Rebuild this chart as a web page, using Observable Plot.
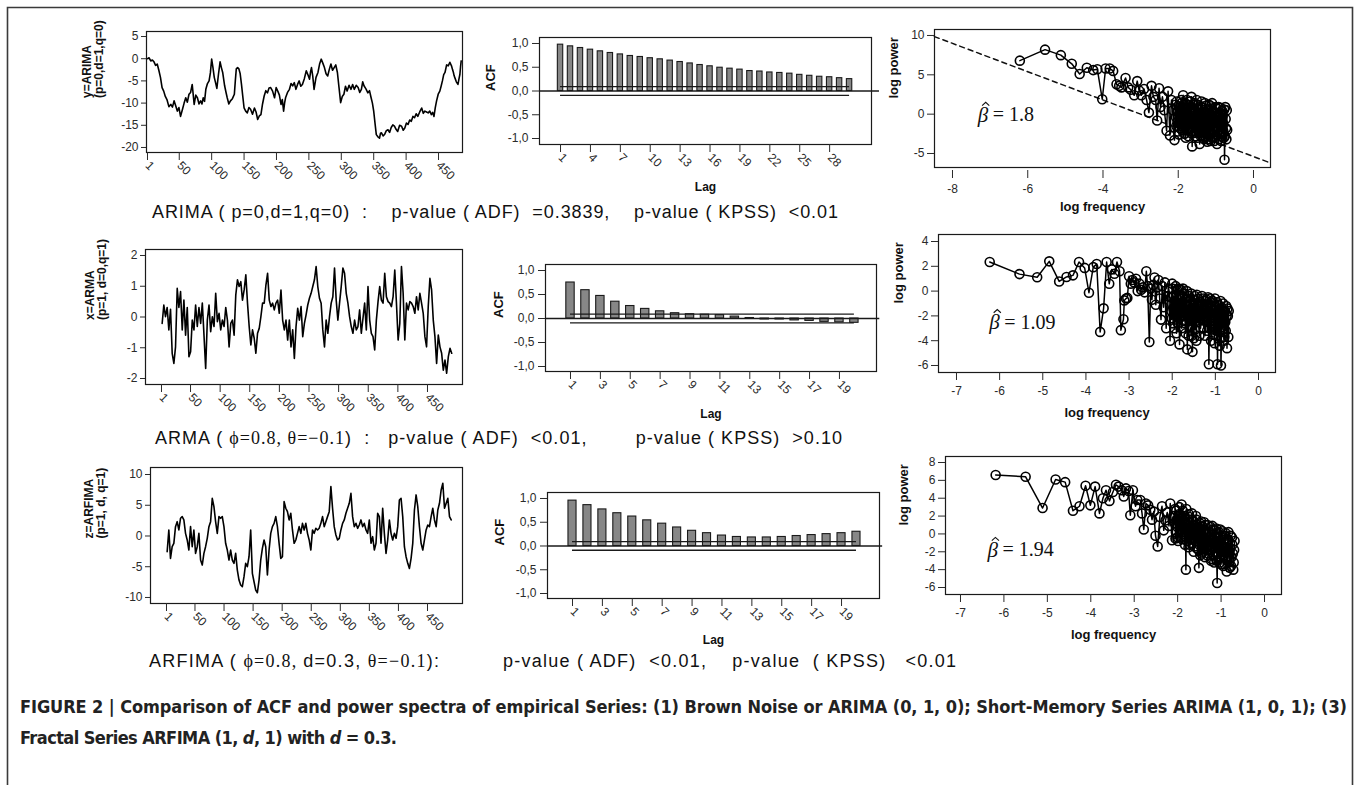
<!DOCTYPE html>
<html><head><meta charset="utf-8">
<script src="https://cdn.jsdelivr.net/npm/d3@7"></script>
<script src="https://cdn.jsdelivr.net/npm/@observablehq/plot@0.6"></script>
<style>
html,body{margin:0;padding:0;background:#fff;overflow:hidden;}
#fig{position:relative;width:1356px;height:785px;overflow:hidden;background:#fff;}
.panel{position:absolute;}
.panel svg{overflow:visible;}
</style></head><body><div id="fig"></div>
<script>
// ================= DATA =================
const tsTicks = [1, 50, 100, 150, 200, 250, 300, 350, 400, 450];

// Row 1: y = ARIMA(0,1,0), [observation index, value]
const ts1Points = [[1,0],[3.5,0.2],[6,-0.5],[8.5,-0.3],[11,-0.7],[13.5,-1.5],[16,-1.2],[18.5,-2.6],[21,-4.2],[23.5,-6.5],
[26,-7.3],[28.5,-8.5],[31,-9.2],[34,-10.8],[37,-10.3],[39.5,-10.9],[42,-9.5],[44.5,-10.6],[47,-11.8],[49.5,-11.0],
[52,-13.0],[55,-11.4],[57.5,-10.0],[60,-8.8],[62.5,-9.8],[65,-8.0],[67.5,-7.6],[70,-5.8],[73,-10.3],[75.5,-8.2],
[78,-8.8],[80.5,-10.2],[83,-9.5],[85,-10.2],[87,-8.8],[89,-9.6],[91,-6.9],[93.5,-5.6],[96,-5.0],[98,-3.2],
[100,-0.1],[102,-2.0],[104,-4.2],[106,-5.4],[108,-6.7],[110.5,-3.5],[113,-0.7],[115,-2.0],[117,-3.1],[120,-6.1],
[122,-7.5],[124,-8.8],[126.5,-10.2],[129,-9.5],[132,-9.0],[135,-8.0],[136.5,-5.0],[138,-2.3],[140,-2.0],[142,-2.3],
[144,-3.4],[146,-5.8],[148,-8.5],[150,-11.1],[152.5,-11.8],[155,-12.2],[157.5,-11.0],[160,-11.4],[163,-12.5],[166,-11.1],
[168.5,-12.0],[171,-13.7],[173.5,-12.9],[176,-12.6],[178.5,-10.2],[181,-8.4],[183.5,-7.2],[186,-7.7],[188.5,-6.6],[191,-6.5],
[194,-7.3],[197,-8.8],[199.5,-6.5],[202,-7.3],[204.5,-8.2],[207,-10.3],[209,-9.2],[211,-11.8],[212.5,-10.0],[214,-8.8],
[217,-7.6],[220,-6.9],[222.5,-5.6],[225,-6.1],[227.5,-5.4],[230,-6.9],[232.5,-5.8],[235,-5.0],[237.5,-6.2],[240,-5.8],
[243,-4.5],[246,-2.7],[248.5,-3.6],[251,-4.6],[252.5,-3.0],[254,-2.0],[256,-4.0],[258,-6.9],[261,-4.2],[264,-3.1],
[266.5,-1.2],[269,-0.1],[271.5,-1.0],[274,-2.0],[276.5,-3.4],[279,-3.9],[281.5,-2.4],[284,-1.2],[286.5,-2.6],[289,-2.0],
[291.5,-1.4],[294,-3.1],[296.5,-6.5],[299,-9.9],[301.5,-8.5],[304,-8.0],[306.5,-6.2],[309,-7.3],[312,-6.0],[315,-6.9],
[317.5,-5.8],[320,-6.9],[323,-6.0],[326,-6.5],[328.5,-7.6],[331,-6.9],[333,-5.2],[335,-6.1],[338,-6.8],[341,-7.7],
[343.5,-7.2],[346,-8.8],[348,-10.0],[350,-11.8],[352,-14.5],[354,-17.1],[356.5,-17.6],[359,-17.9],[360.5,-16.8],[362,-16.7],
[364.5,-17.4],[367,-17.0],[369.5,-16.2],[372,-16.0],[374.5,-16.6],[377,-15.5],[379.5,-14.9],[382,-15.2],[384.5,-15.9],[387,-16.4],
[390,-15.0],[393,-15.2],[395.5,-16.1],[398,-15.6],[400.5,-14.5],[403,-14.8],[405.5,-13.8],[408,-14.1],[410.5,-13.0],[413,-13.3],
[415.5,-12.4],[418,-13.0],[421,-12.0],[424,-11.1],[426.5,-12.3],[429,-11.8],[431.5,-12.0],[434,-12.2],[436.5,-11.8],[439,-12.6],
[441,-12.1],[443,-13.0],[445,-11.0],[447,-9.5],[449.5,-8.0],[452,-7.3],[454,-6.2],[456,-5.0],[458,-3.6],[460,-3.1],
[462.5,-1.4],[465,-1.6],[467.5,-0.8],[470,-1.6],[471.5,-2.4],[473,-3.1],[474,-3.8],[475,-4.2],[477.5,-5.2],[480,-5.8],
[481.5,-4.6],[483,-3.5],[484,-1.8],[485,-0.5]];

// Row 2: x = ARMA(1,0,1), one value every ts2Step observations from ts2Start
const ts2Start = 2.1, ts2Step = 2.825;
const ts2Value = [-0.21,0.39,0.01,0.31,-0.42,0.25,-1.18,-1.51,-0.97,0.93,
0.31,0.83,-0.42,0.55,-0.59,0.31,-1.29,-1.13,-0.10,-0.42,
0.39,-0.31,0.31,-0.21,0.45,-0.59,-1.67,-0.10,0.39,-0.48,
0.01,-0.31,0.77,-0.15,0.12,-0.42,-0.10,-0.31,0.31,-0.10,
-0.97,-0.21,-0.10,-0.59,0.72,1.21,0.99,1.15,0.55,0.88,
1.37,0.45,-0.31,-0.91,-0.42,-0.69,-1.18,-0.53,-0.37,0.01,
0.45,0.45,1.04,1.42,0.55,0.34,0.45,0.23,0.45,0.55,
0.12,0.88,-0.10,-0.42,-0.10,-0.75,-0.10,-0.97,-0.42,-1.35,
-0.31,0.28,-0.10,0.34,-0.64,-0.21,0.07,0.39,0.61,0.77,
0.99,1.21,1.64,0.99,0.61,0.45,-0.42,-0.97,-0.10,-0.53,
0.01,0.45,0.66,1.59,0.55,-0.10,0.45,0.99,1.59,1.42,
0.77,0.45,0.01,-0.31,-0.53,-0.10,-0.42,-0.31,0.23,-0.53,
-0.04,0.45,-0.42,0.99,-0.10,-0.53,-0.64,-1.07,-0.10,0.50,
0.99,0.55,0.45,1.42,0.66,0.50,0.45,0.34,0.66,1.53,
0.45,-0.75,-0.21,1.64,0.77,-0.75,0.45,0.23,0.50,0.45,
0.34,0.12,0.66,0.23,0.77,0.45,0.12,-0.64,-0.97,0.34,
1.26,0.88,-0.10,-0.64,-1.51,-0.59,-0.97,-1.18,-1.73,-1.40,
-1.83,-1.29,-1.02,-1.18];

// Row 3: z = ARFIMA(1,d,1)
const ts3Start = 2.15, ts3Step = 2.874;
const ts3Value = [-2.55,0.98,-3.64,-1.74,-1.19,1.52,2.33,0.98,2.88,3.15,
2.61,0.43,-0.65,-2.28,1.52,-1.74,0.98,-2.82,-1.74,0.43,
-3.91,-4.72,-2.82,-1.74,-0.38,1.52,2.33,6.13,4.78,2.33,
0.43,3.15,2.88,3.15,1.52,-1.19,-2.28,-3.91,-2.28,-3.91,
-4.45,-2.82,-5.54,-7.17,-7.98,-8.25,-6.62,-4.45,-4.99,-3.37,
0.98,-6.08,-7.44,-8.79,-9.23,-7.17,-3.91,-2.01,-0.65,-1.74,
-6.35,-2.28,0.43,1.52,2.06,3.15,1.52,-1.19,-3.64,-3.37,
5.59,4.51,3.96,2.61,3.69,0.98,-1.19,-0.65,0.43,1.52,
0.43,2.06,0.98,2.06,0.43,-0.65,-2.28,0.98,0.43,1.25,
0.98,1.25,2.06,3.15,1.52,2.33,3.15,3.96,8.03,4.51,
1.52,0.16,-0.65,-0.38,0.98,2.06,2.61,3.69,4.51,5.32,
6.95,3.15,1.52,2.06,1.25,1.79,2.61,1.52,2.06,0.98,
0.43,2.61,-1.19,-0.11,-2.28,-1.19,3.69,3.15,-1.19,4.51,
0.43,-2.82,-0.65,2.61,0.43,-0.65,0.43,-0.38,1.52,5.86,
6.13,3.15,-1.74,-3.37,-4.45,-5.27,-3.64,-1.19,4.23,6.68,
4.78,1.52,-1.19,-2.28,-0.65,0.98,1.79,1.52,3.15,4.51,
2.61,1.52,4.23,5.32,7.49,8.58,4.51,5.32,6.13,3.15,
2.61];

const tsYTicks1 = [5, 0, -5, -10, -15, -20];
const tsYTicks2 = [2, 1, 0, -1, -2];
const tsYTicks3 = [10, 5, 0, -5, -10];
const tsLabels = ["y=ARIMA\n(p=0,d=1,q=0)", "x=ARMA\n(p=1, d=0,q=1)", "z=ARFIMA\n(p=1, d, q=1)"];

// ACF
const acf1 = [0.975,0.94,0.905,0.87,0.835,0.80,0.77,0.737,0.716,0.69,0.667,0.64,0.61,0.58,0.547,0.52,0.49,0.47,0.45,0.42,0.41,0.39,0.38,0.365,0.34,0.32,0.30,0.29,0.27,0.25];
const acf2 = [0.75,0.59,0.47,0.35,0.26,0.20,0.15,0.11,0.09,0.08,0.07,0.04,0.01,-0.02,-0.02,-0.04,-0.05,-0.07,-0.08,-0.09];
const acf3 = [0.955,0.86,0.77,0.69,0.62,0.54,0.47,0.39,0.32,0.27,0.22,0.19,0.18,0.18,0.19,0.21,0.23,0.25,0.27,0.30];
const acfTicks1 = [1, 4, 7, 10, 13, 16, 19, 22, 25, 28];
const acfTicks23 = [1, 3, 5, 7, 9, 11, 13, 15, 17, 19];
const acfYTicks = [1, 0.5, 0, -0.5, -1];
const confBound = 0.09;

// Power spectra: [log frequency, log power]
const sp1 = [[-6.21,6.8],[-5.54,8.2],[-5.12,7.5],[-4.83,6.4],[-4.62,5.1],[-4.43,5.9],[-4.26,5.6],[-4.15,5.7],[-4.02,1.9],[-3.93,5.8],
[-3.82,5.8],[-3.73,5.5],[-3.64,3.8],[-3.57,3.6],[-3.51,3.4],[-3.40,4.6],[-3.33,3.4],[-3.26,3.1],[-3.17,2.4],[-3.09,4.2],
[-3.04,3.0],[-2.98,2.4],[-2.91,3.2],[-2.84,1.8],[-2.78,0.2],[-2.71,3.6],[-2.66,2.2],[-2.60,1.8],[-2.56,-0.8],[-2.51,3.3],
[-2.47,0.9],[-2.42,2.2],[-2.37,0.5],[-2.31,-2.1],[-2.27,2.9],[-2.22,-2.7],[-2.18,1.8],[-2.14,0.5],[-2.10,-3.3],
[-2.07,1.2],[-2.05,-1.5],[-2.03,0.3],[-2.01,-2.2],[-1.99,1.0],[-1.97,-0.5],[-1.95,-1.8],[-1.93,0.6],[-1.91,-1.0],[-1.89,1.5],
[-1.87,2.4],[-1.85,-0.8],[-1.83,-2.5],[-1.81,0.8],[-1.79,-1.5],[-1.77,1.8],[-1.75,-0.3],[-1.73,-2.8],[-1.71,1.0],[-1.69,-1.2],
[-1.67,0.2],[-1.65,2.2],[-1.63,-4.1],[-1.61,-1.0],
[-1.60,-0.5],[-1.59,1.2],[-1.58,-1.0],[-1.57,-2.4],[-1.56,1.4],[-1.55,0.5],[-1.54,-2.8],[-1.53,-1.6],[-1.52,0.0],[-1.51,1.8],
[-1.50,-1.2],[-1.49,-3.0],[-1.48,1.2],[-1.47,0.2],[-1.46,-2.4],[-1.45,-1.0],[-1.44,0.6],[-1.43,-3.8],[-1.42,-1.8],[-1.41,1.0],
[-1.40,-2.8],[-1.39,-0.6],[-1.38,1.6],[-1.37,-2.2],[-1.36,-1.0],[-1.35,0.8],[-1.34,-3.0],[-1.33,-1.4],[-1.32,0.2],[-1.31,-3.2],
[-1.30,-1.6],[-1.29,1.4],[-1.28,-2.8],[-1.27,-0.4],[-1.26,1.1],[-1.25,-2.6],[-1.24,-1.2],[-1.23,-3.5],[-1.22,-0.2],[-1.21,0.6],
[-1.20,-3.2],[-1.19,-1.8],[-1.18,1.2],[-1.17,0.2],[-1.16,-1.4],[-1.15,-2.6],[-1.14,-3.4],[-1.13,1.0],[-1.12,-0.4],[-1.11,-0.9],
[-1.10,1.4],[-1.09,-3.0],[-1.08,-2.0],[-1.07,0.4],[-1.06,-0.8],[-1.05,-1.5],[-1.04,-3.4],[-1.03,-2.2],[-1.02,0.2],[-1.01,0.9],
[-1.00,-1.6],[-0.99,-0.8],[-0.98,0.7],[-0.97,-3.8],[-0.96,-2.6],[-0.95,-1.2],[-0.94,-0.4],[-0.93,0.9],[-0.92,-3.2],[-0.91,-2.0],
[-0.90,-1.0],[-0.89,0.2],[-0.88,0.8],[-0.87,-1.0],[-0.86,-3.4],[-0.85,-2.5],[-0.84,-1.6],[-0.83,0.4],[-0.82,-0.2],[-0.81,-1.2],
[-0.80,-2.2],[-0.79,-3.0],[-0.78,0.6],[-0.77,-5.8],[-0.76,-2.8],[-0.75,0.9],[-0.74,-0.6],[-0.73,-1.8],[-0.72,-3.2],[-0.71,0.5],
[-0.70,-2.0]];
const sp1Extra = [[-2.06,-0.4],[-2.04,1.6],[-2.02,-1.0],[-2.00,0.4],[-1.98,-2.6],[-1.96,0.8],[-1.94,-0.8],[-1.92,1.8],[-1.90,-2.0],[-1.88,0.2],
[-1.86,-1.2],[-1.84,1.2],[-1.82,-0.6],[-1.80,-3.0],[-1.78,0.4],[-1.76,-2.0],[-1.74,1.2],[-1.72,-0.6],[-1.70,-1.8],[-1.68,1.6],
[-1.66,-2.4],[-1.64,0.4],[-1.62,-1.6]];
const fit1 = [[-8.48, 9.86], [0.45, -6.2]];

const sp2 = [[-6.23,2.35],[-5.54,1.37],[-5.13,1.12],[-4.85,2.4],[-4.62,0.78],[-4.45,1.14],[-4.30,1.27],[-4.16,2.35],[-4.03,1.87],[-3.93,-0.13],
[-3.83,1.93],[-3.75,2.18],[-3.67,-3.29],[-3.59,-1.39],[-3.52,2.35],[-3.46,0.59],[-3.40,1.75],[-3.34,1.4],[-3.28,2.35],[-3.22,1.6],
[-3.19,-3.15],[-3.13,-2.27],[-3.11,-0.75],[-3.07,-0.6],[-3.04,-0.55],[-3.00,1.2],[-2.96,0.6],[-2.92,0.9],[-2.88,0.7],[-2.84,1.0],
[-2.80,0.0],[-2.76,0.6],[-2.72,0.1],[-2.68,0.3],[-2.64,-0.1],[-2.60,1.6],[-2.57,0.4],[-2.53,-4.1],[-2.50,0.2],[-2.47,-0.7],
[-2.44,0.5],[-2.41,1.1],[-2.38,-1.1],[-2.35,0.3],[-2.32,0.9],[-2.29,-0.6],[-2.26,-2.3],[-2.23,0.4],[-2.20,-1.3],[-2.17,0.7],
[-2.14,-3.0],[-2.11,-0.4],[-2.08,0.2],[-2.05,-4.0],
[-2.03,-0.5],[-2.01,-2.2],[-1.99,0.2],[-1.97,-1.4],[-1.95,-3.0],[-1.93,-0.8],[-1.91,-1.9],[-1.89,0.1],[-1.87,-2.6],[-1.85,-1.2],
[-1.83,-4.3],[-1.81,-0.3],[-1.79,-2.0],[-1.77,-1.0],[-1.75,0.2],[-1.73,-2.4],[-1.71,-1.5],[-1.69,-3.4],[-1.67,-0.6],[-1.65,-4.7],
[-1.63,-1.2],[-1.61,-0.4],[-1.59,-2.8],[-1.57,-1.6],[-1.55,-3.6],[-1.53,-4.9],[-1.51,-0.7],[-1.49,-2.2],[-1.47,-3.1],[-1.45,-1.0],
[-1.43,-0.3],[-1.41,-2.5],[-1.39,-1.4],[-1.37,-3.6],[-1.35,-0.9],[-1.33,-2.0],
[-1.31,-0.4],[-1.30,-2.2],[-1.29,-1.6],[-1.28,-0.6],[-1.27,-3.0],[-1.26,-1.4],[-1.25,-2.4],[-1.24,-3.6],[-1.23,-0.8],[-1.22,-2.0],
[-1.21,-1.8],[-1.20,-0.7],[-1.19,-3.2],[-1.18,-2.4],[-1.17,-0.5],[-1.16,-1.6],[-1.15,-5.9],[-1.14,-3.0],[-1.13,-1.3],[-1.12,-0.6],
[-1.11,-2.6],[-1.10,-4.0],[-1.09,-0.9],[-1.08,-1.8],[-1.07,-2.1],[-1.06,-0.8],[-1.05,-3.5],[-1.04,-2.4],[-1.03,-1.5],[-1.02,-4.2],
[-1.01,-0.6],[-1.00,-1.2],[-0.99,-2.8],[-0.98,-3.6],[-0.97,-1.9],[-0.96,-0.9],[-0.95,-5.9],[-0.94,-2.6],[-0.93,-1.1],[-0.92,-1.5],
[-0.91,-3.3],[-0.90,-4.4],[-0.89,-2.2],[-0.88,-0.8],[-0.87,-6.0],[-0.86,-3.8],[-0.85,-1.4],[-0.84,-2.2],[-0.83,-2.9],[-0.82,-1.0],
[-0.81,-1.7],[-0.80,-4.0],[-0.79,-3.7],[-0.78,-1.6],[-0.77,-2.5],[-0.76,-3.2],[-0.75,-1.2],[-0.74,-2.0],[-0.73,-4.6],[-0.72,-1.4],
[-0.71,-2.0],[-0.70,-3.7],[-0.69,-1.6]];
const sp2Extra = [[-2.02,-1.6],[-2.00,0.6],[-1.98,-2.6],[-1.96,-0.4],[-1.94,-1.6],[-1.92,0.4],[-1.90,-3.4],[-1.88,-1.0],[-1.86,0.2],[-1.84,-2.2],
[-1.82,-1.4],[-1.80,0.1],[-1.78,-3.0],[-1.76,-0.6],[-1.74,-1.8],[-1.72,-0.2],[-1.70,-2.6],[-1.68,-1.2],[-1.66,0.0],[-1.64,-2.0],
[-1.62,-3.6],[-1.60,-0.8],[-1.58,-1.8],[-1.56,-0.2],[-1.54,-2.4],[-1.52,-1.2],[-1.50,-3.8],[-1.48,-0.4],[-1.46,-1.8],[-1.44,-4.0],
[-1.42,-1.2],[-1.40,-0.6],[-1.38,-2.2],[-1.36,-1.6],[-1.34,-3.0],[-1.32,-1.0]];

const sp3 = [[-6.19,6.6],[-5.50,6.4],[-5.11,2.9],[-4.81,6.1],[-4.59,5.8],[-4.41,2.6],[-4.26,3.1],[-4.12,5.4],[-4.01,3.2],[-3.90,5.3],
[-3.80,2.3],[-3.72,4.0],[-3.65,4.9],[-3.57,3.7],[-3.49,4.7],[-3.42,5.5],[-3.36,5.3],[-3.29,4.9],[-3.24,4.2],[-3.19,5.1],
[-3.13,4.8],[-3.09,2.1],[-3.03,4.9],[-2.97,3.1],[-2.93,3.8],[-2.86,3.8],[-2.82,2.3],[-2.78,0.5],[-2.73,3.4],[-2.68,3.2],
[-2.63,2.7],[-2.59,1.6],[-2.55,2.5],[-2.51,-0.2],[-2.46,-1.4],[-2.41,1.9],[-2.36,3.1],[-2.32,0.4],[-2.28,1.5],[-2.24,2.4],
[-2.20,0.9],[-2.17,3.4],[-2.13,-0.7],[-2.10,2.0],
[-2.07,1.2],[-2.05,-0.5],[-2.03,2.6],[-2.01,0.8],[-1.99,-0.8],[-1.97,2.2],[-1.95,1.0],[-1.93,-0.4],[-1.91,3.3],[-1.89,1.5],
[-1.87,0.2],[-1.85,2.0],[-1.83,-1.2],[-1.81,-4.0],[-1.79,1.6],[-1.77,0.4],[-1.75,-1.5],[-1.73,1.9],[-1.71,0.0],[-1.69,-1.0],
[-1.67,2.3],[-1.65,0.6],[-1.63,-2.0],[-1.61,1.0],[-1.59,-0.8],[-1.57,1.6],[-1.55,-1.6],[-1.53,0.2],[-1.51,-3.8],[-1.49,1.2],
[-1.47,-0.5],[-1.45,-2.2],[-1.43,0.8],[-1.41,-1.2],[-1.39,1.3],[-1.37,-2.6],[-1.35,0.0],[-1.33,-1.4],
[-1.31,1.0],[-1.30,-0.4],[-1.29,-2.2],[-1.28,-1.8],[-1.27,-0.6],[-1.26,0.2],[-1.25,0.8],[-1.24,-1.4],[-1.23,-3.0],[-1.22,-2.8],
[-1.21,-1.0],[-1.20,0.9],[-1.19,0.5],[-1.18,-1.0],[-1.17,-2.4],[-1.16,-3.2],[-1.15,-0.3],[-1.14,0.4],[-1.13,-1.6],[-1.12,-2.0],
[-1.11,0.6],[-1.10,-3.0],[-1.09,-5.5],[-1.08,-0.4],[-1.07,-1.2],[-1.06,-2.2],[-1.05,0.2],[-1.04,-1.0],[-1.03,-3.2],[-1.02,0.5],
[-1.01,-0.8],[-1.00,-3.4],[-0.99,-2.0],[-0.98,-1.2],[-0.97,0.3],[-0.96,-0.2],[-0.95,-3.6],[-0.94,-2.4],[-0.93,-1.4],[-0.92,-3.4],
[-0.91,-0.2],[-0.90,0.1],[-0.89,-2.6],[-0.88,-1.6],[-0.87,-4.2],[-0.86,-3.0],[-0.85,-1.0],[-0.84,-0.6],[-0.83,0.2],[-0.82,-2.2],
[-0.81,-2.8],[-0.80,-3.8],[-0.79,-1.6],[-0.78,-0.2],[-0.77,-3.6],[-0.76,-2.6],[-0.75,-0.4],[-0.74,-1.2],[-0.73,-2.2],[-0.72,-4.0],
[-0.71,-3.2],[-0.70,-1.8],[-0.69,-0.8]];
const sp3Extra = [[-2.06,2.8],[-2.04,0.2],[-2.02,1.6],[-2.00,-0.4],[-1.98,1.4],[-1.96,3.0],[-1.94,0.4],[-1.92,1.8],[-1.90,-0.6],[-1.88,2.6],
[-1.86,0.8],[-1.84,-0.6],[-1.82,1.2],[-1.80,2.8],[-1.78,-0.8],[-1.76,1.0],[-1.74,2.2],[-1.72,-1.2],[-1.70,0.8],[-1.68,1.6],
[-1.66,-0.6],[-1.64,1.4],[-1.62,-1.4],[-1.60,0.4],[-1.58,2.0],[-1.56,-0.4],[-1.54,1.0],[-1.52,-1.8],[-1.50,0.6],[-1.48,-2.4],
[-1.46,1.4],[-1.44,-0.8],[-1.42,-2.0],[-1.40,0.2],[-1.38,-1.6],[-1.36,1.0],[-1.34,-0.6],[-1.32,-2.4]];

const spXTicks1 = [-8, -6, -4, -2, 0];
const spXTicks23 = [-7, -6, -5, -4, -3, -2, -1, 0];
const spYTicks1 = [10, 5, 0, -5];
const spYTicks2 = [4, 2, 0, -2, -4, -6];
const spYTicks3 = [8, 6, 4, 2, 0, -2, -4, -6];
const betaText = ["= 1.8", "= 1.09", "= 1.94"];
const betaLabelX = [-7.33, -6.24, -6.38];
const betaLabelY = [-0.1, -2.5, -1.8];

const rowLines = [
  [["ARIMA ( p=0,d=1,q=0)  :    p-value ( ADF)  =0.3839,    p-value ( KPSS)  <0.01", "sans"]],
  [["ARMA ( ", "sans"], ["ϕ=0.8, θ=−0.1", "serif"], [")  :   p-value ( ADF)  <0.01,        p-value ( KPSS)  >0.10", "sans"]],
  [["ARFIMA ( ", "sans"], ["ϕ=0.8, ", "serif"], ["d=0.3, ", "sans"], ["θ=−0.1", "serif"], ["):          p-value ( ADF)  <0.01,    p-value  ( KPSS)   <0.01", "sans"]]
];
const captionLine1 = "FIGURE 2 | Comparison of ACF and power spectra of empirical Series: (1) Brown Noise or ARIMA (0, 1, 0); Short-Memory Series ARIMA (1, 0, 1); (3)";
const captionLine2 = [["Fractal Series ARFIMA (1, ", "normal"], ["d", "italic"], [", 1) with ", "normal"], ["d", "italic"], [" = 0.3.", "normal"]];

// ================= DRAWING =================
const fig = document.getElementById("fig");
const SANS = "'Liberation Sans', Arial, Helvetica, sans-serif";
const SERIF = "'Liberation Serif', 'Times New Roman', serif";
const NARROW = "'Liberation Sans Narrow', 'Arial Narrow', 'DejaVu Sans Condensed', 'Liberation Sans', sans-serif";
const INK = "#1a1a1a";
const plain = d => String(d);
const comma = d => d.toFixed(1).replace(".", ",");
const byX = (a, b) => a[0] - b[0];
// circumflex ("hat") drawn as an open caret symbol
const hatSymbol = {draw(ctx, size) { const r = Math.sqrt(size / Math.PI); ctx.moveTo(-r, r * 0.45); ctx.lineTo(0, -r * 0.45); ctx.lineTo(r, r * 0.45); }};

function place(box, frame, xDomain, yDomain, marks) {
  const plot = Plot.plot({
    width: box.R - box.L, height: box.B - box.T,
    marginLeft: frame.L - box.L, marginRight: box.R - frame.R,
    marginTop: frame.T - box.T, marginBottom: box.B - frame.B,
    x: {domain: xDomain},
    y: {domain: yDomain},
    style: {background: "transparent", fontFamily: SANS, fontSize: "12px", color: "#2a2a2a", overflow: "visible"},
    marks
  });
  const div = document.createElement("div");
  div.className = "panel";
  div.style.left = box.L + "px";
  div.style.top = box.T + "px";
  div.appendChild(plot);
  fig.appendChild(div);
}

function tsPanel(box, frame, xDomain, yDomain, yTicks, xs, ys, label, labelDx, labelDy) {
  place(box, frame, xDomain, yDomain, [
    Plot.frame({stroke: INK, strokeWidth: 1.2}),
    Plot.axisY({ticks: yTicks, tickFormat: plain, tickSize: 5, tickPadding: 3, fontSize: 12, label: null}),
    Plot.axisX({ticks: tsTicks, tickFormat: plain, tickSize: 8, tickPadding: 3, tickRotate: 45, textAnchor: "start", fontSize: 12, label: null}),
    Plot.lineY(ys, {x: xs, stroke: "#000", strokeWidth: 1.6}),
    Plot.text([label], {text: d => d, frameAnchor: "left", rotate: -90, dx: labelDx, dy: labelDy, fontWeight: "bold", fontSize: 12, lineHeight: 1.0, fill: "#111"})
  ]);
}

function acfPanel(box, frame, xDomain, yDomain, xTicks, acf, halfW, zeroEnd, labelDx, lagDy) {
  const lags = acf.map((_, i) => i + 1);
  place(box, frame, xDomain, yDomain, [
    Plot.frame({stroke: INK, strokeWidth: 1.2}),
    Plot.axisY({ticks: acfYTicks, tickFormat: comma, tickSize: 7, tickPadding: 4, fontSize: 12, label: null}),
    Plot.axisX({ticks: xTicks, tickFormat: plain, tickSize: 8, tickPadding: 3, tickRotate: 45, textAnchor: "start", fontSize: 12, label: null}),
    Plot.rect(acf, {x1: (d, i) => lags[i] - halfW, x2: (d, i) => lags[i] + halfW, y1: 0, y2: d => d, fill: "#878787", stroke: INK, strokeWidth: 1.1}),
    Plot.ruleY([0], {x1: xDomain[0], x2: zeroEnd, stroke: INK, strokeWidth: 1.5}),
    Plot.ruleY([confBound, -confBound], {x1: lags[0], x2: lags[lags.length - 1], stroke: INK, strokeWidth: 1.3}),
    Plot.text(["ACF"], {text: d => d, frameAnchor: "left", rotate: -90, dx: labelDx, fontWeight: "bold", fontSize: 13, fill: "#111"}),
    Plot.text(["Lag"], {text: d => d, frameAnchor: "bottom", dy: lagDy, fontWeight: "bold", fontSize: 12, fill: "#111"})
  ]);
}

function spPanel(box, frame, xDomain, yDomain, xTicks, yTicks, pts, k, extra, labelDx, freqDy, axisDy) {
  place(box, frame, xDomain, yDomain, [
    Plot.frame({stroke: INK, strokeWidth: 1.2}),
    Plot.axisY({ticks: yTicks, tickFormat: plain, tickSize: 7, tickPadding: 3, fontSize: 12, label: null}),
    Plot.axisX({ticks: xTicks, tickFormat: plain, tickSize: 8, tickPadding: 6, fontSize: 12, label: null, dy: axisDy}),
    ...extra,
    Plot.line(pts, {x: d => d[0], y: d => d[1], stroke: "#000", strokeWidth: 1.5}),
    Plot.dot(pts, {x: d => d[0], y: d => d[1], r: 4.5, stroke: "#000", strokeWidth: 1.6, fill: "none"}),
    Plot.text(["β"], {x: betaLabelX[k], y: betaLabelY[k], text: d => d, textAnchor: "start", fontFamily: SERIF, fontStyle: "italic", fontSize: 21, fill: "#111"}),
    Plot.dot([k], {x: betaLabelX[k], y: betaLabelY[k], symbol: hatSymbol, r: 3.6, dx: 8, dy: -11, stroke: "#111", strokeWidth: 1.1, fill: "none"}),
    Plot.text([betaText[k]], {x: betaLabelX[k], y: betaLabelY[k], text: d => d, textAnchor: "start", dx: 15, fontFamily: SERIF, fontSize: 20, fill: "#111"}),
    Plot.text(["log power"], {text: d => d, frameAnchor: "left", rotate: -90, dx: labelDx, fontWeight: "bold", fontSize: 13, fill: "#111"}),
    Plot.text(["log frequency"], {text: d => d, frameAnchor: "bottom", dy: freqDy, fontWeight: "bold", fontSize: 13, fill: "#111"})
  ]);
}

// ---- time series ----
tsPanel({L: 50, T: 20, R: 470, B: 192}, {L: 146, T: 31, R: 462, B: 152}, [-0.54, 487], [-21.13, 6.13], tsYTicks1,
  ts1Points.map(p => p[0]), ts1Points.map(p => p[1]), tsLabels[0], -53, 6);
tsPanel({L: 50, T: 238, R: 470, B: 425}, {L: 145, T: 249, R: 462, B: 384}, [-26.0, 509.1], [-2.195, 2.195], tsYTicks2,
  ts2Value.map((_, i) => ts2Start + i * ts2Step), ts2Value, tsLabels[1], -49, 3);
tsPanel({L: 50, T: 456, R: 470, B: 645}, {L: 150, T: 467, R: 462, B: 603}, [-26.5, 510.2], [-10.98, 11.14], tsYTicks3,
  ts3Value.map((_, i) => ts3Start + i * ts3Step), ts3Value, tsLabels[2], -55, 3);

// ---- ACF ----
acfPanel({L: 470, T: 27, R: 885, B: 200}, {L: 539, T: 37, R: 871, B: 144}, [-1.11, 32.2], [-1.126, 1.126], acfTicks1, acf1, 0.27, 33.0, -49, 46);
acfPanel({L: 470, T: 254, R: 890, B: 425}, {L: 545, T: 264, R: 876, B: 371}, [-0.673, 21.48], [-1.104, 1.125], acfTicks23, acf2, 0.28, 21.7, -47, 46);
acfPanel({L: 470, T: 482, R: 893, B: 652}, {L: 547, T: 492, R: 879, B: 598}, [-0.673, 21.54], [-1.105, 1.126], acfTicks23, acf3, 0.27, 21.75, -48, 45);

// ---- spectra ----
spPanel({L: 880, T: 19, R: 1290, B: 220}, {L: 934, T: 29, R: 1270, B: 167}, [-8.478, 0.452], [-6.78, 10.76], spXTicks1, spYTicks1,
  sp1.concat(sp1Extra).sort(byX), 0, [Plot.line(fit1, {x: d => d[0], y: d => d[1], stroke: "#111", strokeWidth: 1.5, strokeDasharray: "5,4"})], -41, 43, 3);
spPanel({L: 884, T: 224, R: 1295, B: 425}, {L: 938, T: 234, R: 1275, B: 372}, [-7.417, 0.394], [-6.565, 4.565], spXTicks23, spYTicks2,
  sp2.concat(sp2Extra).sort(byX), 1, [], -40, 44, 0);
spPanel({L: 890, T: 446, R: 1300, B: 650}, {L: 945, T: 456, R: 1281, B: 594}, [-7.345, 0.391], [-6.784, 8.672], spXTicks23, spYTicks3,
  sp3.concat(sp3Extra).sort(byX), 2, [], -42, 44, 0);

// ---- overlay: figure border, statistic lines, caption ----
const ov = d3.select(fig).append("svg")
  .attr("width", 1356).attr("height", 785)
  .style("position", "absolute").style("left", "0px").style("top", "0px").style("pointer-events", "none");
ov.append("path").attr("d", "M7.5,790V7.5H1352.5V790").attr("fill", "none").attr("stroke", "#3a3a3a").attr("stroke-width", 1.6);

const rowPos = [[152, 218, 686], [155, 443.5, 687], [149, 667, 807]];
rowLines.forEach((parts, r) => {
  const t = ov.append("text").attr("x", rowPos[r][0]).attr("y", rowPos[r][1])
    .attr("textLength", rowPos[r][2]).attr("lengthAdjust", "spacing")
    .attr("font-size", 18).attr("fill", "#111").attr("xml:space", "preserve").style("white-space", "pre");
  parts.forEach(([s, fam]) => t.append("tspan").attr("font-family", fam === "serif" ? SERIF : SANS).text(s));
});

ov.append("text").attr("x", 20).attr("y", 713).attr("textLength", 1327).attr("lengthAdjust", "spacing")
  .attr("font-family", NARROW).attr("font-weight", "bold").attr("font-size", 18).attr("fill", "#222")
  .attr("xml:space", "preserve").style("white-space", "pre").text(captionLine1);
const c2 = ov.append("text").attr("x", 20).attr("y", 744).attr("textLength", 377).attr("lengthAdjust", "spacing")
  .attr("font-family", NARROW).attr("font-weight", "bold").attr("font-size", 18).attr("fill", "#222")
  .attr("xml:space", "preserve").style("white-space", "pre");
captionLine2.forEach(([s, st]) => c2.append("tspan").attr("font-style", st).text(s));
</script></body></html>
